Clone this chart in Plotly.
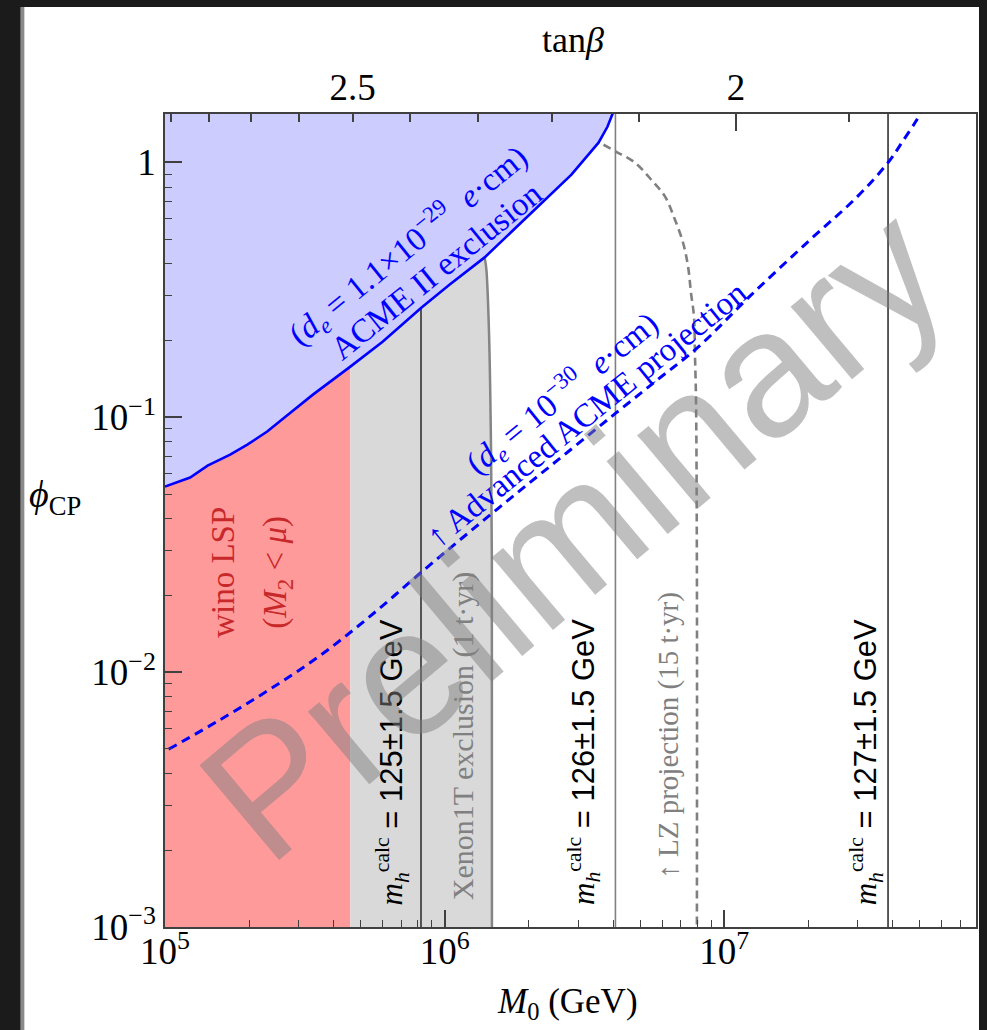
import numpy as np
import plotly.graph_objects as go

# ---------------- data ----------------
# ACME II exclusion boundary (solid blue)
acme_M0 = [1.0e5, 1.23e5, 1.42e5, 1.71e5, 1.97e5, 2.32e5, 2.73e5, 3.38e5, 4.6e5,
           6.0e5, 8.25e5, 1.04e6, 1.39e6, 2.05e6, 2.84e6, 3.55e6, 3.82e6, 4.03e6]
acme_phi = [0.0535, 0.058, 0.0646, 0.0714, 0.0781, 0.0879, 0.1016, 0.1227, 0.158,
            0.198, 0.269, 0.331, 0.424, 0.635, 0.895, 1.195, 1.38, 1.60]

# Xenon1T exclusion right edge (solid gray)
xenon_M0 = [1.39e6, 1.41e6, 1.44e6, 1.462e6, 1.475e6, 1.476e6]
xenon_phi = [0.424, 0.38, 0.22, 0.09, 0.028, 0.001]

# LZ projection (dashed gray)
lz_M0 = [3.70e6, 4.11e6, 4.80e6, 5.48e6, 6.14e6, 6.66e6, 7.12e6, 7.42e6, 7.60e6,
         7.79e6, 7.85e6, 7.92e6, 7.98e6, 7.98e6]
lz_phi = [1.173, 1.101, 0.997, 0.855, 0.734, 0.596, 0.484, 0.390, 0.308,
          0.248, 0.179, 0.117, 0.0246, 0.001]

# Advanced ACME projection (dashed blue)
proj_M0 = [1.03e5, 1.58e5, 2.37e5, 3.58e5, 5.39e5, 8.23e5, 1.22e6, 1.84e6, 2.77e6,
           4.10e6, 5.80e6, 8.04e6, 1.24e7, 2.03e7, 2.99e7, 3.87e7, 4.38e7, 4.88e7, 5.09e7]
proj_phi = [0.00498, 0.00652, 0.00856, 0.0116, 0.0165, 0.0246, 0.0353, 0.0511, 0.0734,
            0.104, 0.141, 0.188, 0.300, 0.498, 0.734, 1.006, 1.227, 1.47, 1.60]

wino_edge_M0 = 4.6e5          # wino LSP region ends here
xenon_join_M0 = 1.39e6         # Xenon1T edge meets the ACME curve

mh_values = ["125", "126", "127"]
mh_M0 = [8.23e5, 4.08e6, 3.85e7]
mh_colors = ["#333333", "#808080", "#333333"]

tanb_vals = [2.9, 2.8, 2.7, 2.6, 2.5, 2.4, 2.3, 2.2, 2.1, 2.0, 1.9]
tanb_M0 = [1.05e5, 1.44e5, 2.03e5, 3.01e5, 4.69e5, 7.54e5, 1.32e6, 2.43e6, 4.96e6, 1.10e7, 2.80e7]
tanb_labelled = {2.5: "2.5", 2.0: "2"}

x_tickvals = [1e5, 1e6, 1e7]
x_ticktext = ["10<sup>5</sup>", "10<sup>6</sup>", "10<sup>7</sup>"]
y_tickvals = [1e-3, 1e-2, 1e-1, 1]
y_ticktext = ["10<sup>\u22123</sup>", "10<sup>\u22122</sup>", "10<sup>\u22121</sup>", "1"]

X_RANGE = [5.0, 7.9]
Y_RANGE = [-3.0, 0.19]

# ---------------- geometry ----------------
W, H = 987, 1030
L, R, T, B = 165, 9, 114, 103
PW, PH = W - L - R, H - T - B


def px(x):
    return (x - L) / PW


def py(y):
    return (H - B - y) / PH


SERIF = "Liberation Serif"
SANS = "Liberation Sans"
PHI_TOP = 10 ** Y_RANGE[1] * 1.3
PHI_BOT = 10 ** Y_RANGE[0] * 0.8

acme_M0_a = np.array(acme_M0)
acme_phi_a = np.array(acme_phi)
iw = int(np.argmin(np.abs(acme_M0_a - wino_edge_M0)))
ij = int(np.argmin(np.abs(acme_M0_a - xenon_join_M0)))

fig = go.Figure()

# blue ACME exclusion region (above the curve)
fig.add_trace(go.Scatter(
    x=list(acme_M0) + [acme_M0[-1], acme_M0[0]],
    y=list(acme_phi) + [PHI_TOP, PHI_TOP],
    fill="toself", fillcolor="#ccccff", mode="lines", line=dict(width=0),
    hoverinfo="skip", showlegend=False))

# red wino LSP region
fig.add_trace(go.Scatter(
    x=list(acme_M0[:iw + 1]) + [wino_edge_M0, acme_M0[0]],
    y=list(acme_phi[:iw + 1]) + [PHI_BOT, PHI_BOT],
    fill="toself", fillcolor="#ff9a9a", mode="lines", line=dict(width=0),
    hoverinfo="skip", showlegend=False))

# gray Xenon1T region
fig.add_trace(go.Scatter(
    x=list(acme_M0[iw:ij + 1]) + list(xenon_M0[1:]) + [xenon_M0[-1], wino_edge_M0],
    y=list(acme_phi[iw:ij + 1]) + list(xenon_phi[1:]) + [PHI_BOT, PHI_BOT],
    fill="toself", fillcolor="#d9d9d9", mode="lines", line=dict(width=0),
    hoverinfo="skip", showlegend=False))

# Xenon1T edge line
fig.add_trace(go.Scatter(
    x=xenon_M0, y=xenon_phi, mode="lines", line=dict(color="#858585", width=2.5, shape="spline"),
    hoverinfo="skip", showlegend=False))

# m_h^calc contour lines (vertical)
for i, (m, c) in enumerate(zip(mh_M0, mh_colors)):
    top = PHI_TOP
    if m < acme_M0[-1]:
        top = 10 ** np.interp(np.log10(m), np.log10(acme_M0_a), np.log10(acme_phi_a))
    fig.add_trace(go.Scatter(
        x=[m, m], y=[PHI_BOT, top], mode="lines", line=dict(color=c, width=1.6),
        hoverinfo="skip", showlegend=False))

# LZ projection (dashed gray)
fig.add_trace(go.Scatter(
    x=lz_M0, y=lz_phi, mode="lines",
    line=dict(color="#808080", width=2.6, dash="8px,5px", shape="spline"),
    hoverinfo="skip", showlegend=False))

# Advanced ACME projection (dashed blue)
fig.add_trace(go.Scatter(
    x=proj_M0, y=proj_phi, mode="lines",
    line=dict(color="#0000ff", width=3, dash="9px,6px", shape="spline"),
    hoverinfo="skip", showlegend=False))

# ACME II boundary (solid blue)
fig.add_trace(go.Scatter(
    x=acme_M0, y=acme_phi, mode="lines", line=dict(color="#0000ff", width=2.6),
    hoverinfo="skip", showlegend=False))

# ---------------- axes ----------------
minor_x = [m * 10 ** e for e in range(5, 8) for m in range(2, 10)
           if np.log10(m * 10 ** e) < X_RANGE[1]]
minor_y = [m * 10 ** e for e in range(-3, 1) for m in range(2, 10)
           if np.log10(m * 10 ** e) < Y_RANGE[1]]

AX = "#404040"
tickfont = dict(family=SERIF, size=37, color="black")

fig.update_layout(
    width=W, height=H, autosize=False,
    margin=dict(l=L, r=R, t=T, b=B, pad=0),
    paper_bgcolor="#1b1b1b", plot_bgcolor="white",
    showlegend=False,
    xaxis=dict(type="log", range=X_RANGE, showgrid=False, zeroline=False,
               showline=True, linecolor=AX, linewidth=1.5, mirror=True,
               ticks="inside", ticklen=17, tickwidth=1.5, tickcolor=AX,
               tickmode="array", tickvals=x_tickvals, ticktext=x_ticktext,
               tickfont=tickfont, ticklabelstandoff=-9,
               minor=dict(ticks="inside", ticklen=7, tickwidth=1.3, tickcolor=AX,
                          tickmode="array", tickvals=minor_x, showgrid=False)),
    yaxis=dict(type="log", range=Y_RANGE, showgrid=False, zeroline=False,
               showline=True, linecolor=AX, linewidth=1.5, mirror=True,
               ticks="inside", ticklen=17, tickwidth=1.5, tickcolor=AX,
               tickmode="array", tickvals=y_tickvals, ticktext=y_ticktext,
               tickfont=tickfont,
               minor=dict(ticks="inside", ticklen=7, tickwidth=1.3, tickcolor=AX,
                          tickmode="array", tickvals=minor_y, showgrid=False)),
    xaxis2=dict(type="log", range=X_RANGE, overlaying="x", side="top", anchor="y",
                showgrid=False, zeroline=False, showline=False,
                ticks="inside", ticklen=8, tickwidth=1.5, tickcolor=AX,
                tickmode="array", tickvals=tanb_M0,
                ticktext=[tanb_labelled.get(v, "") for v in tanb_vals],
                tickfont=tickfont, ticklabelstandoff=6),
    xaxis3=dict(type="log", range=X_RANGE, overlaying="x", side="top", anchor="y",
                showgrid=False, zeroline=False, showline=False,
                ticks="inside", ticklen=17, tickwidth=1.5, tickcolor=AX,
                tickmode="array",
                tickvals=[m for v, m in zip(tanb_vals, tanb_M0) if v == 2.0],
                showticklabels=False),
)

# invisible carriers so the top axes are drawn
fig.add_trace(go.Scatter(x=[tanb_M0[0]], y=[acme_phi[0]], xaxis="x2", mode="lines",
                         line=dict(width=0), hoverinfo="skip", showlegend=False))
fig.add_trace(go.Scatter(x=[tanb_M0[0]], y=[acme_phi[0]], xaxis="x3", mode="lines",
                         line=dict(width=0), hoverinfo="skip", showlegend=False))

# white slide panel behind the figure
fig.add_shape(type="rect", xref="paper", yref="paper", layer="below",
              x0=px(23), x1=px(981), y0=py(H + 5), y1=py(7),
              fillcolor="white", line=dict(width=0))
fig.add_shape(type="rect", xref="paper", yref="paper", layer="below",
              x0=px(20), x1=px(24), y0=py(H + 5), y1=py(7),
              fillcolor="#8a8a8a", line=dict(width=0))

# ---------------- text ----------------
def ann(text, x, y, size, color="black", family=SERIF, angle=0):
    fig.add_annotation(text=text, x=px(x), y=py(y), xref="paper", yref="paper",
                       showarrow=False, textangle=angle, xanchor="center", yanchor="middle",
                       font=dict(family=family, size=size, color=color))


ann("tan<i>β</i>", 574, 40, 36)
ann("<i>ϕ</i><sub>CP</sub>", 55, 497, 38)
ann("<i>M</i><sub>0</sub> (GeV)", 568, 1003, 35)

BLUE = "#0000ff"
ann("(<i>d<sub>e</sub></i> = 1.1×10<sup>\u221229</sup>\u00a0\u00a0<i>e</i>·cm)", 408, 245, 33, BLUE, angle=-39)
ann("ACME II exclusion", 437, 271, 33, BLUE, angle=-39)
ann("(<i>d<sub>e</sub></i> = 10<sup>\u221230</sup>\u00a0\u00a0<i>e</i>·cm)", 562, 393, 33, BLUE, angle=-39)
ann("\u2191 Advanced ACME projection", 588, 414, 33, BLUE, angle=-39)

RED = "#c8282a"
ann("wino LSP", 223, 572, 33, RED, angle=-90)
ann("(<i>M</i><sub>2</sub> < <i>μ</i>)", 277, 572, 33, RED, angle=-90)

for v, xc in zip(mh_values, [393, 585, 868]):
    ann("<i>m</i><sub><i>h</i></sub><sup>calc</sup>"
        f"<span style=\"font-family:{SANS}\"> = {v}±1.5 GeV</span>",
        xc, 762, 31, "black", angle=-90)

GRAY = "#808080"
ann("Xenon1T exclusion (1 t·yr)", 464, 736, 30, GRAY, angle=-90)
ann("\u2191 LZ projection (15 t·yr)", 669, 735, 29, GRAY, angle=-90)

# watermark
ann("Preliminary", 573, 532, 180, "rgba(128,128,128,0.5)", family=SANS, angle=-40)

fig.write_html("out.html")
